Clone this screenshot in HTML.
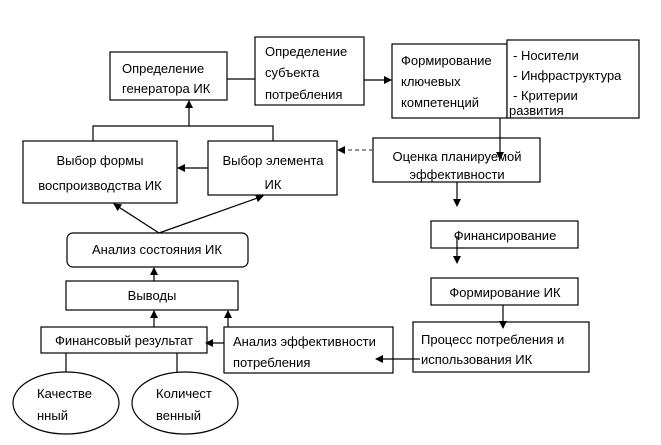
<!DOCTYPE html>
<html><head><meta charset="utf-8"><style>
html,body{margin:0;padding:0;background:#fff;}
svg{display:block;}
text{font-family:"Liberation Sans","DejaVu Sans",sans-serif;font-size:13px;fill:#000;}
</style></head><body>
<svg width="661" height="445" viewBox="0 0 661 445" xmlns="http://www.w3.org/2000/svg">
<defs>
<marker id="a" markerWidth="8" markerHeight="8" refX="7" refY="4" orient="auto" markerUnits="userSpaceOnUse">
<path d="M0,0 L8,4 L0,8 z" fill="#000"/></marker>
</defs>
<g fill="#fff" stroke="#000" stroke-width="1.2">
<rect x="110" y="52" width="117" height="48"/>
<rect x="255" y="37" width="109" height="68"/>
<rect x="392" y="44" width="115" height="74"/>
<rect x="507" y="40" width="132" height="78"/>
<rect x="23" y="141" width="154" height="62"/>
<rect x="208" y="141" width="129" height="54"/>
<rect x="373" y="138" width="167" height="44"/>
<rect x="431" y="221" width="147" height="27"/>
<rect x="431" y="278" width="147" height="27"/>
<rect x="413" y="322" width="176" height="50"/>
<rect x="224" y="327" width="169" height="46"/>
<rect x="41" y="327" width="166" height="26"/>
<rect x="66" y="281" width="172" height="29"/>
<rect x="67" y="233" width="181" height="34" rx="6"/>
<ellipse cx="66" cy="403" rx="53" ry="31"/>
<ellipse cx="185" cy="403" rx="53" ry="31"/>
</g>
<g stroke="#000" stroke-width="1.2" fill="none">
<line x1="227" y1="79" x2="255" y2="79"/>
<line x1="364" y1="80" x2="391" y2="80" marker-end="url(#a)"/>
<polyline points="93,141 93,126 273,126 273,141"/>
<line x1="189" y1="126" x2="189" y2="101" marker-end="url(#a)"/>
<line x1="208" y1="168" x2="178" y2="168" marker-end="url(#a)"/>
<line x1="373" y1="150" x2="338" y2="150" stroke-dasharray="4,3" stroke="#555" marker-end="url(#a)"/>
<line x1="500" y1="118" x2="500" y2="159" marker-end="url(#a)"/>
<line x1="457" y1="182" x2="457" y2="206" marker-end="url(#a)"/>
<line x1="457" y1="236" x2="457" y2="263" marker-end="url(#a)"/>
<line x1="503" y1="305" x2="503" y2="328" marker-end="url(#a)"/>
<line x1="420" y1="359" x2="376" y2="359" marker-end="url(#a)"/>
<line x1="224" y1="343" x2="206" y2="343" marker-end="url(#a)"/>
<line x1="154" y1="327" x2="154" y2="311" marker-end="url(#a)"/>
<line x1="228" y1="327" x2="228" y2="311" marker-end="url(#a)"/>
<line x1="154" y1="281" x2="154" y2="268" marker-end="url(#a)"/>
<line x1="159" y1="233" x2="114" y2="204" marker-end="url(#a)"/>
<line x1="159" y1="233" x2="263" y2="196" marker-end="url(#a)"/>
<line x1="66" y1="353" x2="66" y2="372"/>
<line x1="177" y1="353" x2="177" y2="372"/>
</g>
<text x="122" y="73">Определение</text>
<text x="122" y="93">генератора ИК</text>
<text x="265" y="56">Определение</text>
<text x="265" y="77">субъекта</text>
<text x="265" y="99">потребления</text>
<text x="401" y="65">Формирование</text>
<text x="401" y="86">ключевых</text>
<text x="401" y="107">компетенций</text>
<text x="513" y="60">- Носители</text>
<text x="513" y="80">- Инфраструктура</text>
<text x="513" y="100">- Критерии</text>
<text x="509" y="115">развития</text>
<text x="100" y="165" text-anchor="middle">Выбор формы</text>
<text x="100" y="190" text-anchor="middle">воспроизводства ИК</text>
<text x="273" y="165" text-anchor="middle">Выбор элемента</text>
<text x="273" y="189" text-anchor="middle">ИК</text>
<text x="457" y="161" text-anchor="middle">Оценка планируемой</text>
<text x="457" y="179" text-anchor="middle">эффективности</text>
<text x="505" y="240" text-anchor="middle">Финансирование</text>
<text x="505" y="297" text-anchor="middle">Формирование ИК</text>
<text x="421" y="344">Процесс потребления и</text>
<text x="421" y="364">использования ИК</text>
<text x="233" y="346">Анализ эффективности</text>
<text x="233" y="367">потребления</text>
<text x="124" y="345" text-anchor="middle">Финансовый результат</text>
<text x="152" y="300" text-anchor="middle">Выводы</text>
<text x="157" y="254" text-anchor="middle">Анализ состояния ИК</text>
<text x="37" y="398">Качестве</text>
<text x="37" y="420">нный</text>
<text x="156" y="398">Количест</text>
<text x="156" y="420">венный</text>
</svg>
</body></html>
